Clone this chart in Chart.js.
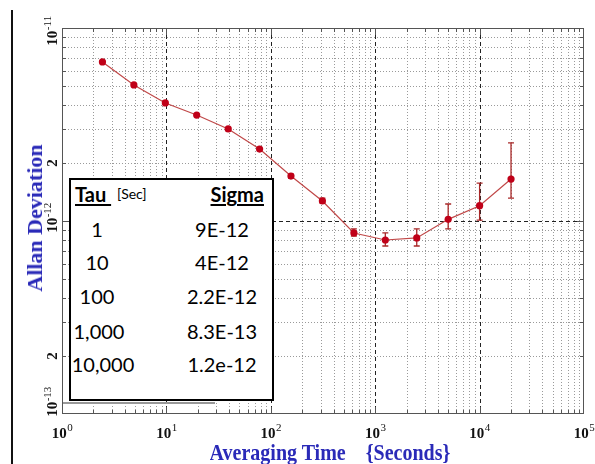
<!DOCTYPE html>
<html>
<head>
<meta charset="utf-8">
<script src="https://cdn.jsdelivr.net/npm/chart.js@4/dist/chart.umd.min.js"></script>
<style>
  html, body { margin:0; padding:0; background:#fff; }
  #wrap { position:relative; width:595px; height:464px; overflow:hidden; background:#fff; }
  #c { position:absolute; left:0; top:0; }
  .vline { position:absolute; left:11px; top:10px; width:2px; height:454px; background:#111; }
  .ytitle { position:absolute; left:35px; top:218px; transform:translate(-50%,-50%) rotate(-90deg);
            font-family:"Liberation Serif","DejaVu Serif",serif; font-weight:bold; font-size:22px; color:#2a2ab8; white-space:pre; }
  .xtitle { position:absolute; left:330px; top:452px; transform:translate(-50%,-50%) scaleY(1.2);
            font-family:"Liberation Serif","DejaVu Serif",serif; font-weight:bold; font-size:20px; color:#2a2ab8; white-space:pre; }
  #tbl { position:absolute; left:69px; top:178px; width:205px; height:223px; box-sizing:border-box;
         border:2px solid #000; background:#fff; }
  .shadow { position:absolute; left:63px; top:402px; width:152px; height:2px; background:#999; }
  .t { position:absolute; font-family:Lato,"Open Sans",sans-serif; font-size:20px; line-height:24px; height:24px; color:#000; white-space:pre; }
  .hd { font-weight:bold; text-decoration:underline; text-decoration-thickness:2px; text-underline-offset:2px; }
</style>
</head>
<body>
<div id="wrap">
  <canvas id="c" width="595" height="464"></canvas>
  <div class="vline"></div>
  <div class="ytitle">Allan Deviation</div>
  <div class="xtitle">Averaging Time    {Seconds}</div>
  <div class="shadow"></div>
  <div id="tbl"></div>
</div>
<script>
// ---- data ----
const tau      = [2.44, 4.88, 9.77, 19.5, 39.1, 78.1, 156, 312, 625, 1250, 2500, 5000, 10000, 20000];
const adev     = [6.67e-12, 5.07e-12, 4.09e-12, 3.54e-12, 3.0e-12, 2.36e-12, 1.71e-12, 1.27e-12, 8.67e-13, 7.97e-13, 8.17e-13, 1.02e-12, 1.20e-12, 1.65e-12];
const adevLow  = [6.6e-12, 5.0e-12, 4.05e-12, 3.5e-12, 2.96e-12, 2.32e-12, 1.67e-12, 1.24e-12, 8.36e-13, 7.42e-13, 7.42e-13, 9.1e-13, 1.01e-12, 1.315e-12];
const adevHigh = [6.74e-12, 5.14e-12, 4.13e-12, 3.58e-12, 3.04e-12, 2.40e-12, 1.75e-12, 1.315e-12, 9.1e-13, 8.67e-13, 9.1e-13, 1.225e-12, 1.57e-12, 2.54e-12];

const xTickValues = [1, 10, 100, 1000, 10000, 100000];
const xTickExps   = ['0', '1', '2', '3', '4', '5'];
const yTickValues = [1e-11, 2e-12, 1e-12, 2e-13, 1e-13];
const yTickBase   = ['10', '2', '10', '2', '10'];
const yTickExps   = ['-11', '', '-12', '', '-13'];

const tableTau   = ['1', '10', '100', '1,000', '10,000'];
const tableSigma = ['9E-12', '4E-12', '2.2E-12', '8.3E-13', '1.2e-12'];

// ---- table overlay ----
(function(){
  const wrap = document.getElementById('wrap');
  function add(txt, cls, left, top, align){
    const d = document.createElement('div');
    d.className = 't ' + (cls||'');
    d.textContent = txt;
    d.style.top = (top - 12) + 'px';
    if (align === 'center') { d.style.left = left + 'px'; d.style.transform = 'translateX(-50%)'; }
    else if (align === 'right') { d.style.right = (595 - left) + 'px'; }
    else d.style.left = left + 'px';
    wrap.appendChild(d);
    return d;
  }
  add('Tau\u00a0', 'hd', 75, 194, 'left');
  const s = add('[Sec]', '', 117, 194, 'left'); s.style.fontSize = '14px';
  add('Sigma', 'hd', 264, 194, 'right');
  const rowsY = [229, 262, 296, 331, 364];
  const tauX = [97, 97, 97, 99, 103];
  for (let i = 0; i < tableTau.length; i++) {
    add(tableTau[i], '', tauX[i], rowsY[i], 'center');
    add(tableSigma[i], '', 222, rowsY[i], 'center');
  }
})();

// ---- plugins ----
function decadeMinors(lo, hi){ // multiples 2..9 of each decade
  const out = [];
  for (let e = lo; e < hi; e++) for (let m = 2; m <= 9; m++) out.push(m * Math.pow(10, e));
  return out;
}
const xMinor = decadeMinors(0, 5);
const xMajor = [10, 100, 1000, 10000];
const yMinor = decadeMinors(-13, -11).map(v => +v.toPrecision(3));
const yMajor = [1e-12];

const gridPlugin = {
  id: 'loggrid',
  beforeDatasetsDraw(chart){
    const {ctx, chartArea:a, scales:{x, y}} = chart;
    ctx.save();
    ctx.lineWidth = 1;
    // minor dotted
    ctx.strokeStyle = '#9a9a9a';
    ctx.setLineDash([1, 2]);
    xMinor.forEach(v => { const p = Math.round(x.getPixelForValue(v)) + 0.5;
      ctx.beginPath(); ctx.moveTo(p, a.top); ctx.lineTo(p, a.bottom); ctx.stroke(); });
    yMinor.forEach(v => { const p = Math.round(y.getPixelForValue(v)) + 0.5;
      ctx.beginPath(); ctx.moveTo(a.left, p); ctx.lineTo(a.right, p); ctx.stroke(); });
    // major dashed
    ctx.strokeStyle = '#222';
    ctx.setLineDash([4, 3]);
    xMajor.forEach(v => { const p = Math.round(x.getPixelForValue(v)) + 0.5;
      ctx.beginPath(); ctx.moveTo(p, a.top); ctx.lineTo(p, a.bottom); ctx.stroke(); });
    yMajor.forEach(v => { const p = Math.round(y.getPixelForValue(v)) + 0.5;
      ctx.beginPath(); ctx.moveTo(a.left, p); ctx.lineTo(a.right, p); ctx.stroke(); });
    ctx.setLineDash([]);
    // frame + inner ticks
    ctx.strokeStyle = '#555';
    ctx.strokeRect(a.left + 0.5, a.top + 0.5, a.right - a.left - 1, a.bottom - a.top - 1);
    ctx.beginPath();
    const tk = (arr, len) => arr.forEach(v => {
      const p = Math.round(x.getPixelForValue(v)) + 0.5;
      ctx.moveTo(p, a.bottom); ctx.lineTo(p, a.bottom - len);
      ctx.moveTo(p, a.top); ctx.lineTo(p, a.top + len);
    });
    const tky = (arr, len) => arr.forEach(v => {
      const p = Math.round(y.getPixelForValue(v)) + 0.5;
      ctx.moveTo(a.left, p); ctx.lineTo(a.left + len, p);
      ctx.moveTo(a.right, p); ctx.lineTo(a.right - len, p);
    });
    tk(xMinor, 4); tk(xMajor, 7); tky(yMinor, 4); tky(yMajor, 7);
    ctx.stroke();
    // error bars
    ctx.strokeStyle = '#a82828';
    ctx.lineWidth = 1.3;
    ctx.beginPath();
    for (let i = 0; i < tau.length; i++) {
      const px = x.getPixelForValue(tau[i]);
      const y1 = y.getPixelForValue(adevLow[i]);
      const y2 = y.getPixelForValue(adevHigh[i]);
      if (Math.abs(y1 - y2) < 3) continue;
      ctx.moveTo(px, y1); ctx.lineTo(px, y2);
      ctx.moveTo(px - 3, y1); ctx.lineTo(px + 3, y1);
      ctx.moveTo(px - 3, y2); ctx.lineTo(px + 3, y2);
    }
    ctx.stroke();
    ctx.restore();
  },
  afterDraw(chart){
    const {ctx, chartArea:a, scales:{x, y}} = chart;
    ctx.save();
    ctx.fillStyle = '#111';
    // x tick labels
    for (let i = 0; i < xTickValues.length; i++) {
      const px = x.getPixelForValue(xTickValues[i]);
      ctx.font = 'bold 15px "Liberation Serif", serif';
      const wb = ctx.measureText('10').width;
      ctx.font = '11px "Liberation Serif", serif';
      const we = ctx.measureText(xTickExps[i]).width;
      const x0 = px - (wb + we) / 2;
      ctx.textBaseline = 'alphabetic';
      ctx.textAlign = 'left';
      ctx.font = 'bold 15px "Liberation Serif", serif';
      ctx.fillText('10', x0, 438);
      ctx.font = '11px "Liberation Serif", serif';
      ctx.fillText(xTickExps[i], x0 + wb + 0.5, 431);
    }
    // y tick labels (rotated)
    const yOff = [3, 0, -3, 0, -12];
    for (let i = 0; i < yTickValues.length; i++) {
      const py = y.getPixelForValue(yTickValues[i]) + yOff[i];
      ctx.save();
      ctx.translate(57, py);
      ctx.rotate(-Math.PI / 2);
      ctx.font = 'bold 15px "Liberation Serif", serif';
      const wb = ctx.measureText(yTickBase[i]).width;
      ctx.font = '11px "Liberation Serif", serif';
      const we = yTickExps[i] ? ctx.measureText(yTickExps[i]).width : 0;
      const x0 = -(wb + we) / 2;
      ctx.textAlign = 'left';
      ctx.textBaseline = 'alphabetic';
      ctx.font = 'bold 15px "Liberation Serif", serif';
      ctx.fillText(yTickBase[i], x0, 0);
      if (yTickExps[i]) {
        ctx.font = '11px "Liberation Serif", serif';
        ctx.fillText(yTickExps[i], x0 + wb + 0.5, -6);
      }
      ctx.restore();
    }
    ctx.restore();
  }
};

new Chart(document.getElementById('c'), {
  type: 'line',
  data: {
    datasets: [{
      data: tau.map((t, i) => ({x: t, y: adev[i]})),
      borderColor: '#c04848',
      borderWidth: 1.2,
      backgroundColor: '#c00018',
      pointBackgroundColor: '#c00018',
      pointBorderColor: '#c00018',
      pointBorderWidth: 0,
      pointRadius: 3.6,
      tension: 0,
      fill: false
    }]
  },
  options: {
    responsive: false,
    devicePixelRatio: 1,
    animation: false,
    layout: { padding: { left: 62, right: 11, top: 28, bottom: 50 } },
    plugins: { legend: { display: false }, tooltip: { enabled: false } },
    scales: {
      x: { type: 'logarithmic', min: 1, max: 100000, display: false },
      y: { type: 'logarithmic', min: 1e-13, max: 1e-11, display: false }
    }
  },
  plugins: [gridPlugin]
});
</script>
</body>
</html>
